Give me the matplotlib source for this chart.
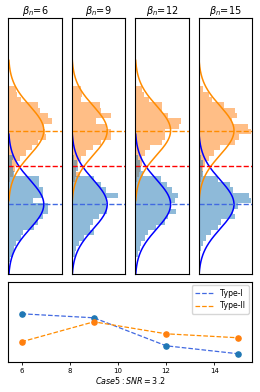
import numpy as np
import matplotlib
matplotlib.use("Agg")
import matplotlib.pyplot as plt

# ---------------- data ----------------
beta_n = [6, 9, 12, 15]

# histogram bar heights (density), listed from the top bin downwards
orange_hist = [
    [0.086, 0.094, 0.143, 0.338, 0.356, 0.443, 0.495, 0.405, 0.413, 0.420,
     0.338, 0.263, 0.195, 0.131, 0.094, 0.075, 0.056, 0.019, 0.010, 0.008],
    [0.109, 0.116, 0.109, 0.315, 0.334, 0.446, 0.278, 0.390, 0.446, 0.446,
     0.334, 0.240, 0.165, 0.109, 0.071, 0.053, 0.090, 0.034, 0.010, 0.008],
    [0.079, 0.098, 0.154, 0.304, 0.304, 0.371, 0.521, 0.491, 0.341, 0.334,
     0.304, 0.173, 0.116, 0.079, 0.079, 0.060, 0.049, 0.023, 0.011, 0.008],
    [0.056, 0.113, 0.150, 0.281, 0.413, 0.431, 0.375, 0.555, 0.593, 0.450,
     0.413, 0.244, 0.169, 0.113, 0.075, 0.056, 0.038, 0.030, 0.010, 0.008],
]
blue_hist = [
    [0.049, 0.041, 0.056, 0.068, 0.349, 0.349, 0.394, 0.394, 0.274, 0.443,
     0.443, 0.394, 0.330, 0.293, 0.161, 0.143, 0.086, 0.068, 0.049, 0.019],
    [0.026, 0.064, 0.075, 0.045, 0.251, 0.326, 0.383, 0.525, 0.383, 0.401,
     0.401, 0.308, 0.240, 0.203, 0.251, 0.139, 0.083, 0.053, 0.038, 0.015],
    [0.034, 0.053, 0.071, 0.090, 0.296, 0.353, 0.420, 0.484, 0.446, 0.390,
     0.465, 0.371, 0.334, 0.240, 0.146, 0.109, 0.071, 0.053, 0.034, 0.015],
    [0.030, 0.049, 0.041, 0.056, 0.218, 0.349, 0.386, 0.566, 0.593, 0.443,
     0.386, 0.405, 0.255, 0.218, 0.143, 0.086, 0.049, 0.030, 0.019, 0.011],
]
orange_top = 4.8     # upper edge of the highest orange bin
blue_top = 2.0       # upper edge of the highest blue bin
bin_w = 0.217

mu_null, mu_alt, sigma = 0.0, 3.0, 1.0
threshold = 1.57

x_err = [6, 9, 12, 15]
type1 = [0.097, 0.089, 0.033, 0.017]
type2 = [0.041, 0.081, 0.057, 0.049]

# ---------------- figure ----------------
W, H = 260, 392
fig = plt.figure(figsize=(W / 100, H / 100), dpi=100)


def pdf(y, mu, s):
    return np.exp(-0.5 * ((y - mu) / s) ** 2) / (s * np.sqrt(2 * np.pi))


for i, b in enumerate(beta_n):
    left = (8.3 + i * 63.4) / W
    ax = fig.add_axes([left, 1 - 274 / H, 53.4 / W, 255.7 / H])
    oh = orange_hist[i]
    bh = blue_hist[i]
    oy = orange_top - bin_w * (np.arange(len(oh)) + 1)
    by = blue_top - bin_w * (np.arange(len(bh)) + 1)
    ax.barh(oy, oh, height=bin_w, align='edge', color='C1', alpha=0.5,
            linewidth=0)
    ax.barh(by, bh, height=bin_w, align='edge', color='C0', alpha=0.5,
            linewidth=0)
    yb = np.linspace(mu_null - 2.85 * sigma, mu_null + 2.85 * sigma, 200)
    ya = np.linspace(mu_alt - 2.85 * sigma, mu_alt + 2.85 * sigma, 200)
    ax.plot(pdf(yb, mu_null, sigma), yb, color='blue', lw=1.1)
    ax.plot(pdf(ya, mu_alt, sigma), ya, color='darkorange', lw=1.1)
    ax.axhline(mu_alt, color='darkorange', ls='--', lw=1)
    ax.axhline(threshold, color='red', ls='--', lw=1)
    ax.axhline(mu_null, color='royalblue', ls='--', lw=1)
    ax.set_xlim(0, 0.6)
    ax.set_ylim(-2.83, 7.56)
    ax.set_xticks([])
    ax.set_yticks([])
    ax.set_title(r'$\beta_n$=%d' % b, fontsize=7, pad=3)

ax2 = fig.add_axes([8.3 / W, 1 - 362.3 / H, 243.4 / W, 80 / H])
ax2.plot(x_err, type1, '--', color='royalblue', lw=0.9, label='Type-I')
ax2.plot(x_err, type2, '--', color='darkorange', lw=0.9, label='Type-II')
ax2.scatter(x_err, type1, color='C0', s=14, zorder=3)
ax2.scatter(x_err, type2, color='C1', s=14, zorder=3)
ax2.set_xlim(5.45, 15.55)
ax2.set_ylim(0, 0.16)
ax2.set_xticks([6, 8, 10, 12, 14])
ax2.set_yticks([])
ax2.tick_params(axis='x', labelsize=5, length=2.5, width=0.6, pad=1.5)
ax2.set_xlabel(r'$Case5: SNR = 3.2$', fontsize=5.8, labelpad=1)
ax2.legend(loc='upper right', fontsize=5.6, handlelength=2.5,
           borderaxespad=0.4)

fig.savefig('out.png', dpi=100)
